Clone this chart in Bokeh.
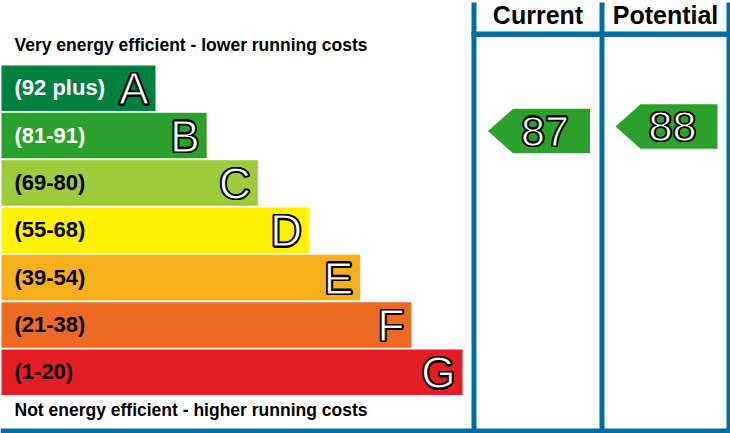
from bokeh.plotting import figure
from bokeh.models import ColumnDataSource, Range1d
from bokeh.core.properties import value
from bokeh.embed import file_html
from bokeh.resources import INLINE

# ---- data ----
bands = ["A", "B", "C", "D", "E", "F", "G"]
band_labels = ["(92 plus)", "(81-91)", "(69-80)", "(55-68)", "(39-54)", "(21-38)", "(1-20)"]
band_min = [92, 81, 69, 55, 39, 21, 1]
band_max = [100, 91, 80, 68, 54, 38, 20]
columns = ["Current", "Potential"]
ratings = [87, 88]
top_note = "Very energy efficient - lower running costs"
bottom_note = "Not energy efficient - higher running costs"

# ---- styles ----
band_colors = ["#00803e", "#2ca02c", "#9dcb3c", "#fff200", "#f8af1e", "#ed6a25", "#e31e25"]
label_colors = ["white", "white", "black", "black", "black", "black", "black"]
BLUE = "#006fa0"
FONT = "Liberation Sans"

W, H = 730, 433
TOP0, PITCH, BAR_H = 65.0, 47.33, 45.5
X0, W0, STEP = 1.0, 154.0, 51.17
COL_EDGES = [(476, 599), (604, 726)]
HALO = [(-1, -1), (1, -1), (-1, 1), (1, 1), (-1.3, 0), (1.3, 0), (0, -1.3), (0, 1.3)]

p = figure(width=W, height=H, x_range=Range1d(0, W), y_range=Range1d(H, 0),
           x_axis_type=None, y_axis_type=None, toolbar_location=None,
           output_backend="svg", min_border=0, outline_line_color=None,
           background_fill_color="white", border_fill_color="white")
p.grid.visible = False

n = len(bands)
tops = [TOP0 + i * PITCH for i in range(n)]
bots = [t + BAR_H for t in tops]
rights = [X0 + W0 + i * STEP for i in range(n)]
centers = [t + BAR_H / 2 for t in tops]


def outlined(xs, ys, texts, size, align):
    for dx, dy in HALO:
        p.text(x=[x + dx for x in xs], y=[y + dy for y in ys], text=texts,
               text_color="black", text_font=value(FONT), text_font_size=size,
               text_baseline="alphabetic", text_align=align)
    p.text(x=xs, y=ys, text=texts, text_color="white", text_outline_color="black",
           text_font=value(FONT), text_font_size=size,
           text_baseline="alphabetic", text_align=align)


src = ColumnDataSource(dict(
    left=[X0] * n, right=rights, top=tops, bottom=bots, color=band_colors,
    lab=band_labels, labc=label_colors, lx=[14] * n, ly=[c - 0.5 for c in centers],
))
p.quad(left="left", right="right", top="top", bottom="bottom", fill_color="color",
       line_color=None, source=src)
p.text(x="lx", y="ly", text="lab", text_color="labc", source=src,
       text_font=value(FONT), text_font_style="bold", text_font_size="22px",
       text_baseline="alphabetic", text_align="left")
outlined([r - 7 for r in rights], [c + 0.5 for c in centers], bands, "44px", "right")

# notes
p.text(x=[14, 14], y=[44, 409], text=[top_note, bottom_note], text_color="black",
       text_font=value(FONT), text_font_style="bold", text_font_size="17.5px",
       text_baseline="alphabetic", text_align="left")

# frame lines
p.quad(left=[471, 599, 726, 471, 0], right=[476, 604, 731, 731, 731],
       top=[2, 2, 2, 31, 428], bottom=[433, 433, 433, 36.5, 433],
       fill_color=BLUE, line_color=None)

# headers
col_cx = [(a + b) / 2 for a, b in COL_EDGES]
p.text(x=col_cx, y=[14.5, 14.5], text=columns, text_color="black",
       text_font=value(FONT), text_font_style="bold", text_font_size="25px",
       text_baseline="alphabetic", text_align="center")

# arrows
axs, ays, tx, ty, tt, acol = [], [], [], [], [], []
for cx, v in zip(col_cx, ratings):
    i = next(k for k in range(n) if band_min[k] <= v <= band_max[k])
    yc = tops[i] + (band_max[i] - v) / (band_max[i] - band_min[i]) * BAR_H
    c = cx + 1
    hh = 22.3
    axs.append([c - 51, c - 26, c + 51, c + 51, c - 26])
    ays.append([yc, yc - hh, yc - hh, yc + hh, yc + hh])
    tx.append(c + 6)
    ty.append(yc)
    tt.append(str(v))
    acol.append(band_colors[i])
p.patches(xs=axs, ys=ays, fill_color=acol, line_color=None)
outlined(tx, ty, tt, "43px", "center")

open("out.html", "w").write(file_html(p, INLINE))
